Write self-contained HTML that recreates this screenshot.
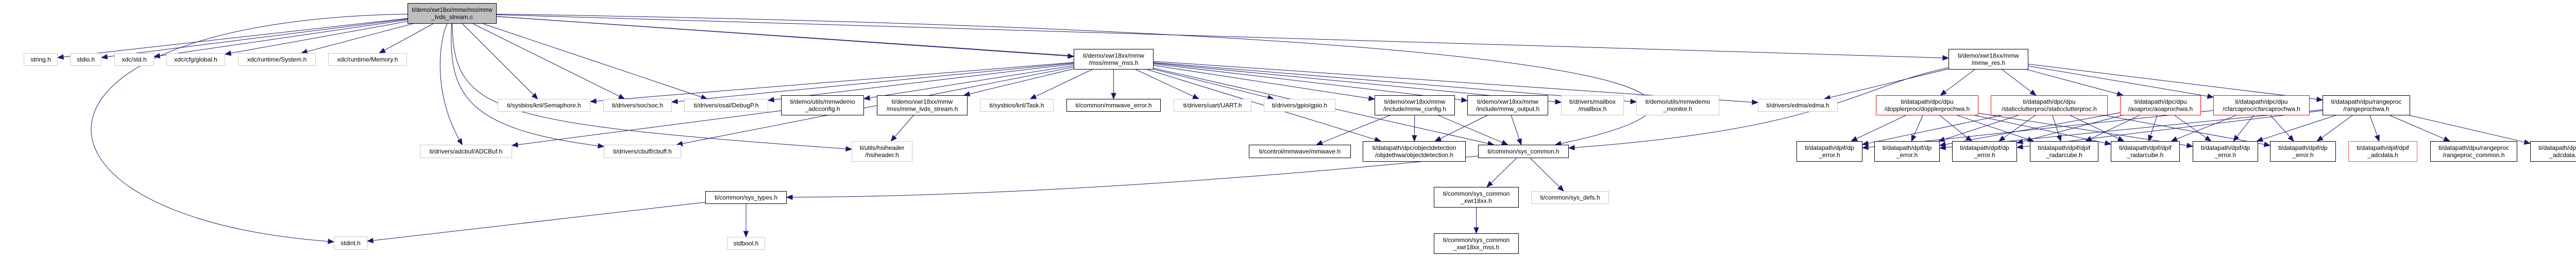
<!DOCTYPE html>
<html><head><meta charset="utf-8">
<style>
html,body{margin:0;padding:0;background:#fff;}
svg{display:block;}
text{font-family:"Liberation Sans",sans-serif;font-size:12px;fill:#000;}
</style></head>
<body>
<svg id="g" width="5048" height="499" viewBox="0 0 5048 499" xmlns="http://www.w3.org/2000/svg">
<g id="edges"></g>
<g id="nodes"></g>
</svg>
<script>
// node: id, x1, x2, y1, y2, style, label lines
const nodeIds = ["root","string","stdio","std","global","system","memory","stdint","adcbuf","semaphore","soc","debugp","adcconfig","cbuff","hsi","systypes","stdbool","mss","lvds","task","mmwerr","uart","gpio","mmwave","config","output","mailbox","monitor","objdet","syscommon","sc18","sysdefs","sc18mss","res","edma","doppler","static","aoa","cfar","range","e1","e2","e3","rc1","rc2","e4","e5","adcred","rcommon","adc"];
const nodeBoxes = [
[791,964,6,46],[46,112,103,128],[136,197,103,128],[222,299,103,128],[323,437,103,128],[462,613,103,128],[637,790,103,128],[648,713,459,485],
[815,994,281,307],[966,1146,192,217],[1171,1304,192,217],[1328,1491,192,217],[1516,1677,185,224],[1172,1322,281,307],[1653,1771,274,314],
[1369,1527,371,396],[1411,1485,460,485],[2084,2239,95,135],[1702,1878,185,224],[1902,2045,192,217],[2070,2253,192,217],[2278,2429,192,217],
[2453,2592,192,217],[2424,2622,281,307],[2668,2824,185,224],[2848,3005,185,224],[3030,3152,185,224],[3176,3337,185,224],[2645,2845,274,314],
[2869,3045,281,307],[2783,2948,363,403],[2972,3123,371,396],[2783,2948,453,493],[3782,3937,95,135],[3412,3567,192,217],[3641,3840,185,224],
[3864,4091,185,224],[4115,4272,185,224],[4296,4483,185,224],[4508,4678,185,224],[3487,3615,274,314],[3638,3765,274,314],[3789,3915,274,314],
[3940,4073,274,314],[4097,4231,274,314],[4256,4383,274,314],[4406,4534,274,314],[4558,4692,274,314],[4717,4886,274,314],[4911,5045,274,314]];
const nodeStyles = ["root","gray","gray","gray","gray","gray","gray","gray","gray","gray","gray","gray","black","gray","gray","black","gray","black","black","gray","black","gray","gray","black","black","black","gray","gray","black","black","black","gray","black","black","gray","red","red","red","red","black","black","black","black","black","black","black","black","redl","black","black"];
const nodeLabels = [
["ti/demo/xwr18xx/mmw/mss/mmw","_lvds_stream.c"],["string.h"],["stdio.h"],["xdc/std.h"],["xdc/cfg/global.h"],["xdc/runtime/System.h"],["xdc/runtime/Memory.h"],["stdint.h"],
["ti/drivers/adcbuf/ADCBuf.h"],["ti/sysbios/knl/Semaphore.h"],["ti/drivers/soc/soc.h"],["ti/drivers/osal/DebugP.h"],["ti/demo/utils/mmwdemo","_adcconfig.h"],["ti/drivers/cbuff/cbuff.h"],["ti/utils/hsiheader","/hsiheader.h"],
["ti/common/sys_types.h"],["stdbool.h"],["ti/demo/xwr18xx/mmw","/mss/mmw_mss.h"],["ti/demo/xwr18xx/mmw","/mss/mmw_lvds_stream.h"],["ti/sysbios/knl/Task.h"],["ti/common/mmwave_error.h"],["ti/drivers/uart/UART.h"],
["ti/drivers/gpio/gpio.h"],["ti/control/mmwave/mmwave.h"],["ti/demo/xwr18xx/mmw","/include/mmw_config.h"],["ti/demo/xwr18xx/mmw","/include/mmw_output.h"],["ti/drivers/mailbox","/mailbox.h"],["ti/demo/utils/mmwdemo","_monitor.h"],["ti/datapath/dpc/objectdetection","/objdethwa/objectdetection.h"],
["ti/common/sys_common.h"],["ti/common/sys_common","_xwr18xx.h"],["ti/common/sys_defs.h"],["ti/common/sys_common","_xwr18xx_mss.h"],["ti/demo/xwr18xx/mmw","/mmw_res.h"],["ti/drivers/edma/edma.h"],["ti/datapath/dpc/dpu","/dopplerproc/dopplerprochwa.h"],
["ti/datapath/dpc/dpu","/staticclutterproc/staticclutterproc.h"],["ti/datapath/dpc/dpu","/aoaproc/aoaprochwa.h"],["ti/datapath/dpc/dpu","/cfarcaproc/cfarcaprochwa.h"],["ti/datapath/dpu/rangeproc","/rangeprochwa.h"],
["ti/datapath/dpif/dp","_error.h"],["ti/datapath/dpif/dp","_error.h"],["ti/datapath/dpif/dp","_error.h"],["ti/datapath/dpif/dpif","_radarcube.h"],["ti/datapath/dpif/dpif","_radarcube.h"],["ti/datapath/dpif/dp","_error.h"],["ti/datapath/dpif/dp","_error.h"],["ti/datapath/dpif/dpif","_adcdata.h"],["ti/datapath/dpu/rangeproc","/rangeproc_common.h"],["ti/datapath/dpif/dpif","_adcdata.h"]];

// edges: from, to (optional curve controls)
const edgeFrom = ["root","root","root","root","root","root","root","root","root","root","root","root","root","root","root","root","root",
"mss","mss","mss","mss","mss","mss","mss","mss","mss","mss","mss","mss","mss","mss","mss","mss",
"adcconfig","lvds","config","config","config","output","output","syscommon","syscommon","syscommon","sc18","systypes","systypes",
"res","res","res","res","res","res","res",
"doppler","doppler","doppler","doppler","doppler","doppler","static","static","static","static","static","static","aoa","aoa","aoa","aoa","aoa","cfar","cfar","cfar","cfar",
"range","range","range","range","range","range","range"];
const edgeTo = ["string","stdio","std","global","system","memory","stdint","semaphore","soc","debugp","adcbuf","cbuff","hsi","mss","res","edma","syscommon",
"semaphore","soc","debugp","adcconfig","cbuff","lvds","task","mmwerr","uart","gpio","config","output","mailbox","monitor","objdet","syscommon",
"adcbuf","hsi","mmwave","objdet","syscommon","objdet","syscommon","systypes","sc18","sysdefs","sc18mss","stdint","stdbool",
"edma","doppler","static","aoa","cfar","range","syscommon",
"e1","e2","e3","rc1","rc2","e4","e1","e2","e3","rc1","rc2","e5","e2","e3","rc1","rc2","e4","e1","e4","e5","rc2",
"e4","e5","adcred","rcommon","adc","e3","e2"];
const edgeCurves = {
  "root>stdint":[[0,40],[0,420]],
  "root>adcbuf":[[852,80],[840,180]],
  "root>cbuff":[[870,180],[900,250]],
  "root>hsi":[[880,220],[960,240]],
  "root>syscommon":[[3100,60],[3500,180]],
  "syscommon>systypes":[[2700,320],[2100,380]],
  "res>syscommon":[[3600,170],[3550,250]]
};
const NS="http://www.w3.org/2000/svg";
const nodesG=document.getElementById('nodes'), edgesG=document.getElementById('edges');
const box={};
nodeIds.forEach((id,i)=>{box[id]=nodeBoxes[i];});
function center(b){return [(b[0]+b[1])/2,(b[2]+b[3])/2];}
function clip(b,toward){const c=center(b);const dx=toward[0]-c[0],dy=toward[1]-c[1];const hw=(b[1]-b[0])/2,hh=(b[3]-b[2])/2;
 const t=Math.min(dx?hw/Math.abs(dx):1e9,dy?hh/Math.abs(dy):1e9);return [c[0]+dx*t,c[1]+dy*t];}
edgeFrom.forEach((f,i)=>{
  const t=edgeTo[i];const key=f+">"+t;const cv=edgeCurves[key];
  const bf=box[f],bt=box[t];
  let p0,p1,d;
  if(cv){p0=clip(bf,cv[0]);p1=clip(bt,cv[1]);}
  else{p0=clip(bf,center(bt));p1=clip(bt,center(bf));}
  const prev=cv?cv[1]:p0;
  let vx=p1[0]-prev[0],vy=p1[1]-prev[1];const L=Math.hypot(vx,vy)||1;vx/=L;vy/=L;
  const al=11,aw=4.5;const base=[p1[0]-vx*al,p1[1]-vy*al];
  if(cv)d=`M${p0[0]},${p0[1]} C${cv[0][0]},${cv[0][1]} ${cv[1][0]},${cv[1][1]} ${base[0]},${base[1]}`;
  else d=`M${p0[0]},${p0[1]} L${base[0]},${base[1]}`;
  const path=document.createElementNS(NS,'path');
  path.setAttribute('d',d);path.setAttribute('fill','none');path.setAttribute('stroke','#191970');path.setAttribute('stroke-width','1');
  
  
  edgesG.appendChild(path);
  const ah=document.createElementNS(NS,'polygon');
  ah.setAttribute('points',`${p1[0]},${p1[1]} ${base[0]-vy*aw},${base[1]+vx*aw} ${base[0]+vy*aw},${base[1]-vx*aw}`);
  ah.setAttribute('fill','#191970');ah.setAttribute('stroke','#191970');
  
  
  edgesG.appendChild(ah);
});
nodeIds.forEach((id,i)=>{
  const b=nodeBoxes[i],st=nodeStyles[i],lines=nodeLabels[i];
  const g=document.createElementNS(NS,'g');
  
  
  const r=document.createElementNS(NS,'rect');
  r.setAttribute('x',b[0]+0.5);r.setAttribute('y',b[2]+0.5);r.setAttribute('width',b[1]-b[0]-1);r.setAttribute('height',b[3]-b[2]-1);
  const fill=st==='root'?'#bfbfbf':'#fff';
  const stroke=st==='gray'?'#c8c8c8':(st==='red'?'#ff0000':(st==='redl'?'#ff5050':'#000'));
  r.setAttribute('fill',fill);r.setAttribute('stroke',stroke);r.setAttribute('stroke-width','1');
  g.appendChild(r);
  const cx=(b[0]+b[1])/2,h=b[3]-b[2];
  lines.forEach((ln,k)=>{
    const tx=document.createElementNS(NS,'text');
    tx.setAttribute('x',cx);
    const y=lines.length===1?b[2]+h/2+4:b[2]+h/2-3+k*14;
    tx.setAttribute('y',y);tx.setAttribute('text-anchor','middle');
    tx.textContent=ln;
    g.appendChild(tx);
    const w=tx.getComputedTextLength?0:0;
  });
  nodesG.appendChild(g);
});
// fit labels to boxes
document.querySelectorAll('#nodes g').forEach(g=>{
  const r=g.querySelector('rect');const bw=parseFloat(r.getAttribute('width'))-16;
  g.querySelectorAll('text').forEach(t=>{const l=t.getComputedTextLength();if(l>bw){t.setAttribute('textLength',bw);t.setAttribute('lengthAdjust','spacingAndGlyphs');}});
});
</script>
</body></html>
